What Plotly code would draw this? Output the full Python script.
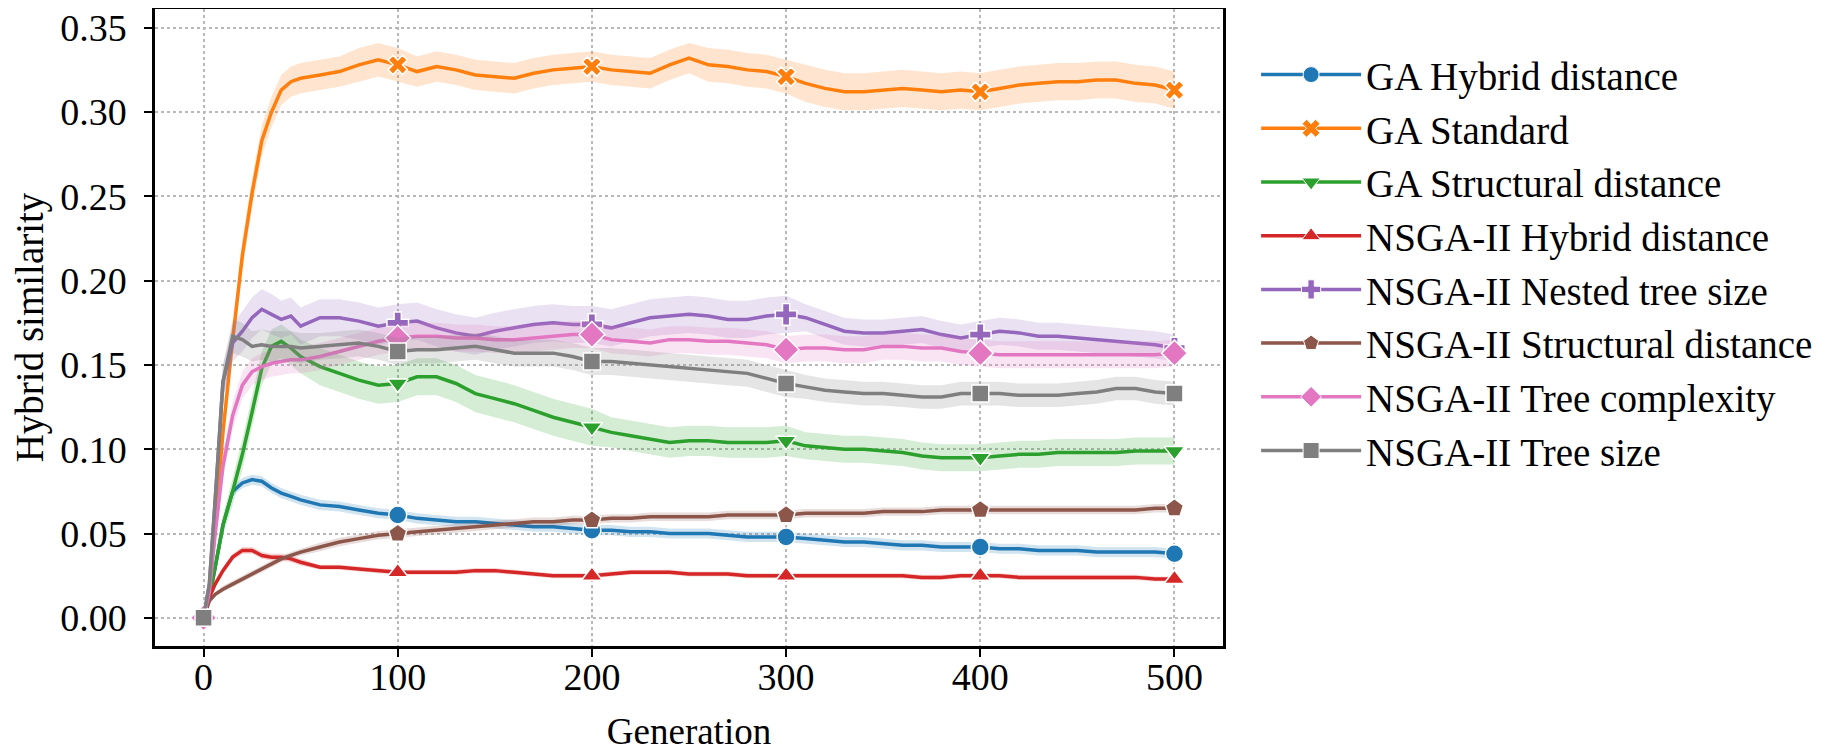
import plotly.graph_objects as go

GEN = [0, 3, 6, 10, 15, 20, 25, 30, 35, 40, 45, 50,
       60, 70, 80, 90, 100, 110, 120, 130, 140, 150, 160, 170, 180, 190, 200,
       210, 220, 230, 240, 250, 260, 270, 280, 290, 300,
       310, 320, 330, 340, 350, 360, 370, 380, 390, 400, 410, 420, 430, 440, 450, 460, 470, 480, 490, 500]

SERIES_NAMES = ["GA Hybrid distance", "GA Standard", "GA Structural distance",
                "NSGA-II Hybrid distance", "NSGA-II Nested tree size",
                "NSGA-II Structural distance", "NSGA-II Tree complexity", "NSGA-II Tree size"]

ga_hybrid = [0, 0.012, 0.030, 0.055, 0.075, 0.080, 0.082, 0.081, 0.077, 0.074, 0.072, 0.070,
             0.067, 0.066, 0.064, 0.062, 0.061, 0.059, 0.058, 0.057, 0.057, 0.056, 0.055, 0.054, 0.054, 0.053, 0.052,
             0.052, 0.051, 0.051, 0.050, 0.050, 0.050, 0.049, 0.048, 0.048, 0.048,
             0.047, 0.046, 0.045, 0.045, 0.044, 0.043, 0.043, 0.042, 0.042, 0.042, 0.041, 0.041, 0.040, 0.040, 0.040, 0.039, 0.039, 0.039, 0.039, 0.038]
ga_standard = [0, 0.015, 0.055, 0.110, 0.165, 0.215, 0.252, 0.283, 0.300, 0.313, 0.318, 0.320,
               0.322, 0.324, 0.328, 0.331, 0.328, 0.324, 0.327, 0.325, 0.322, 0.321, 0.320, 0.323, 0.325, 0.326, 0.327,
               0.325, 0.324, 0.323, 0.328, 0.332, 0.328, 0.327, 0.325, 0.324, 0.321,
               0.317, 0.314, 0.312, 0.312, 0.313, 0.314, 0.313, 0.312, 0.313, 0.312, 0.314, 0.316, 0.317, 0.318, 0.318, 0.319, 0.319, 0.317, 0.316, 0.313]
ga_structural = [0, 0.012, 0.030, 0.055, 0.075, 0.097, 0.122, 0.148, 0.161, 0.164, 0.160, 0.155,
                 0.149, 0.145, 0.141, 0.138, 0.139, 0.143, 0.143, 0.139, 0.133, 0.130, 0.127, 0.123, 0.119, 0.116, 0.113,
                 0.110, 0.108, 0.106, 0.104, 0.105, 0.105, 0.104, 0.104, 0.104, 0.105,
                 0.102, 0.101, 0.100, 0.100, 0.099, 0.098, 0.096, 0.095, 0.095, 0.095, 0.096, 0.097, 0.097, 0.098, 0.098, 0.098, 0.098, 0.099, 0.099, 0.099]
nsga_hybrid = [0, 0.012, 0.020, 0.028, 0.036, 0.040, 0.040, 0.037, 0.036, 0.036, 0.035, 0.033,
               0.030, 0.030, 0.029, 0.028, 0.027, 0.027, 0.027, 0.027, 0.028, 0.028, 0.027, 0.026, 0.025, 0.025, 0.025,
               0.026, 0.027, 0.027, 0.027, 0.026, 0.026, 0.026, 0.025, 0.025, 0.025,
               0.025, 0.025, 0.025, 0.025, 0.025, 0.025, 0.024, 0.024, 0.025, 0.025, 0.025, 0.024, 0.024, 0.024, 0.024, 0.024, 0.024, 0.024, 0.023, 0.023]
nsga_nested = [0, 0.020, 0.070, 0.140, 0.163, 0.170, 0.178, 0.183, 0.180, 0.177, 0.179, 0.173,
               0.178, 0.178, 0.176, 0.173, 0.175, 0.176, 0.172, 0.169, 0.167, 0.170, 0.172, 0.174, 0.175, 0.174, 0.174,
               0.172, 0.175, 0.178, 0.179, 0.180, 0.179, 0.177, 0.177, 0.179, 0.180,
               0.178, 0.174, 0.170, 0.169, 0.169, 0.170, 0.171, 0.168, 0.166, 0.168, 0.170, 0.169, 0.167, 0.167, 0.166, 0.165, 0.164, 0.163, 0.162, 0.160]
nsga_structural = [0, 0.010, 0.014, 0.017, 0.020, 0.023, 0.026, 0.029, 0.032, 0.035, 0.037, 0.039,
                   0.042, 0.045, 0.047, 0.049, 0.050, 0.051, 0.052, 0.053, 0.054, 0.055, 0.056, 0.057, 0.057, 0.058, 0.058,
                   0.059, 0.059, 0.060, 0.060, 0.060, 0.060, 0.061, 0.061, 0.061, 0.061,
                   0.062, 0.062, 0.062, 0.062, 0.063, 0.063, 0.063, 0.064, 0.064, 0.064, 0.064, 0.064, 0.064, 0.064, 0.064, 0.064, 0.064, 0.064, 0.065, 0.065]
nsga_complexity = [0, 0.015, 0.050, 0.090, 0.120, 0.138, 0.146, 0.149, 0.151, 0.152, 0.153, 0.153,
                   0.155, 0.158, 0.161, 0.164, 0.166, 0.167, 0.167, 0.166, 0.166, 0.165, 0.165, 0.166, 0.167, 0.168, 0.168,
                   0.165, 0.164, 0.163, 0.165, 0.165, 0.164, 0.164, 0.163, 0.162, 0.159,
                   0.160, 0.160, 0.159, 0.159, 0.161, 0.161, 0.160, 0.160, 0.158, 0.157, 0.156, 0.156, 0.156, 0.156, 0.156, 0.156, 0.156, 0.156, 0.156, 0.157]
nsga_treesize = [0, 0.020, 0.070, 0.140, 0.167, 0.165, 0.161, 0.162, 0.161, 0.161, 0.161, 0.160,
                 0.161, 0.162, 0.163, 0.161, 0.158, 0.159, 0.159, 0.160, 0.161, 0.159, 0.157, 0.157, 0.157, 0.155, 0.152,
                 0.152, 0.151, 0.150, 0.149, 0.148, 0.147, 0.146, 0.145, 0.142, 0.139,
                 0.137, 0.135, 0.134, 0.133, 0.133, 0.132, 0.131, 0.131, 0.133, 0.133, 0.133, 0.132, 0.132, 0.132, 0.133, 0.134, 0.136, 0.136, 0.134, 0.133]

# half-width of the shaded confidence band
ga_hybrid_ci = [0, 0.001, 0.002, 0.002, 0.003, 0.003, 0.003, 0.003, 0.003, 0.003, 0.003, 0.003,
                0.003, 0.003, 0.003, 0.003, 0.003, 0.003, 0.003, 0.003, 0.003, 0.003, 0.003, 0.003, 0.003, 0.003, 0.003,
                0.003, 0.003, 0.003, 0.003, 0.003, 0.003, 0.003, 0.003, 0.003, 0.003,
                0.003, 0.003, 0.003, 0.003, 0.003, 0.003, 0.003, 0.003, 0.003, 0.003, 0.003, 0.003, 0.003, 0.003, 0.003, 0.003, 0.003, 0.003, 0.003, 0.003]
ga_standard_ci = [0, 0.003, 0.006, 0.008, 0.009, 0.009, 0.009, 0.009, 0.009, 0.009, 0.009, 0.009,
                  0.009, 0.009, 0.010, 0.010, 0.010, 0.009, 0.009, 0.009, 0.009, 0.009, 0.009, 0.009, 0.009, 0.009, 0.009,
                  0.009, 0.009, 0.009, 0.009, 0.009, 0.010, 0.010, 0.010, 0.010, 0.010,
                  0.011, 0.011, 0.011, 0.011, 0.011, 0.011, 0.011, 0.011, 0.011, 0.011, 0.011, 0.011, 0.011, 0.011, 0.011, 0.011, 0.011, 0.011, 0.011, 0.011]
ga_structural_ci = [0, 0.002, 0.004, 0.006, 0.008, 0.009, 0.010, 0.010, 0.010, 0.010, 0.010, 0.010,
                    0.011, 0.011, 0.011, 0.011, 0.011, 0.011, 0.011, 0.011, 0.011, 0.011, 0.011, 0.011, 0.011, 0.011, 0.011,
                    0.009, 0.009, 0.009, 0.009, 0.009, 0.009, 0.009, 0.009, 0.009, 0.009,
                    0.008, 0.008, 0.008, 0.008, 0.008, 0.008, 0.008, 0.008, 0.008, 0.008, 0.008, 0.008, 0.008, 0.008, 0.008, 0.008, 0.008, 0.008, 0.008, 0.008]
nsga_hybrid_ci = [0, 0.001, 0.002, 0.002, 0.002, 0.002, 0.002, 0.002, 0.002, 0.002, 0.002, 0.002,
                  0.0015, 0.0015, 0.0015, 0.0015, 0.0015, 0.0015, 0.0015, 0.0015, 0.0015, 0.0015, 0.0015, 0.0015, 0.0015, 0.0015, 0.0015,
                  0.0015, 0.0015, 0.0015, 0.0015, 0.0015, 0.0015, 0.0015, 0.0015, 0.0015, 0.0015,
                  0.0015, 0.0015, 0.0015, 0.0015, 0.0015, 0.0015, 0.0015, 0.0015, 0.0015, 0.0015, 0.0015, 0.0015, 0.0015, 0.0015, 0.0015, 0.0015, 0.0015, 0.0015, 0.0015, 0.0015]
nsga_nested_ci = [0, 0.004, 0.008, 0.010, 0.011, 0.012, 0.012, 0.012, 0.012, 0.011, 0.011, 0.011,
                  0.011, 0.011, 0.011, 0.011, 0.011, 0.011, 0.011, 0.011, 0.011, 0.011, 0.011, 0.011, 0.011, 0.011, 0.011,
                  0.011, 0.011, 0.011, 0.011, 0.011, 0.011, 0.011, 0.011, 0.011, 0.011,
                  0.008, 0.008, 0.008, 0.008, 0.008, 0.008, 0.008, 0.008, 0.008, 0.008, 0.008, 0.008, 0.008, 0.008, 0.008, 0.008, 0.008, 0.008, 0.008, 0.008]
nsga_structural_ci = [0, 0.001, 0.001, 0.002, 0.002, 0.002, 0.002, 0.002, 0.002, 0.002, 0.002, 0.002,
                      0.0025, 0.0025, 0.0025, 0.0025, 0.0025, 0.0025, 0.0025, 0.0025, 0.0025, 0.0025, 0.0025, 0.0025, 0.0025, 0.0025, 0.0025,
                      0.0025, 0.0025, 0.0025, 0.0025, 0.0025, 0.0025, 0.0025, 0.0025, 0.0025, 0.0025,
                      0.0025, 0.0025, 0.0025, 0.0025, 0.0025, 0.0025, 0.0025, 0.0025, 0.0025, 0.0025, 0.0025, 0.0025, 0.0025, 0.0025, 0.0025, 0.0025, 0.0025, 0.0025, 0.0025, 0.0025]
nsga_complexity_ci = [0, 0.003, 0.006, 0.008, 0.008, 0.008, 0.008, 0.008, 0.008, 0.008, 0.008, 0.008,
                      0.008, 0.008, 0.008, 0.008, 0.008, 0.008, 0.008, 0.008, 0.008, 0.008, 0.008, 0.008, 0.008, 0.008, 0.008,
                      0.008, 0.008, 0.008, 0.008, 0.008, 0.008, 0.008, 0.008, 0.008, 0.008,
                      0.008, 0.008, 0.008, 0.008, 0.008, 0.008, 0.008, 0.008, 0.008, 0.008, 0.008, 0.008, 0.008, 0.008, 0.008, 0.008, 0.008, 0.008, 0.008, 0.008]
nsga_treesize_ci = [0, 0.004, 0.008, 0.010, 0.010, 0.010, 0.009, 0.009, 0.009, 0.009, 0.009, 0.009,
                    0.008, 0.008, 0.008, 0.008, 0.008, 0.008, 0.008, 0.008, 0.008, 0.008, 0.008, 0.008, 0.008, 0.008, 0.008,
                    0.008, 0.008, 0.008, 0.008, 0.008, 0.008, 0.008, 0.008, 0.008, 0.008,
                    0.007, 0.007, 0.007, 0.007, 0.007, 0.007, 0.007, 0.007, 0.007, 0.007, 0.007, 0.007, 0.007, 0.007, 0.007, 0.007, 0.007, 0.007, 0.007, 0.007]

MARKER_GENS = [0, 100, 200, 300, 400, 500]
Y_TICKS = [0.00, 0.05, 0.10, 0.15, 0.20, 0.25, 0.30, 0.35]
X_TICKS = [0, 100, 200, 300, 400, 500]

VALUES = [ga_hybrid, ga_standard, ga_structural, nsga_hybrid, nsga_nested,
          nsga_structural, nsga_complexity, nsga_treesize]
CIS = [ga_hybrid_ci, ga_standard_ci, ga_structural_ci, nsga_hybrid_ci, nsga_nested_ci,
       nsga_structural_ci, nsga_complexity_ci, nsga_treesize_ci]

COLORS = ["#1f77b4", "#ff7f0e", "#2ca02c", "#d62728", "#9467bd", "#8c564b", "#e377c2", "#7f7f7f"]
SYMBOLS = ["circle", "x", "triangle-down", "triangle-up", "cross", "pentagon", "diamond", "square"]
SIZES = [18, 17, 18, 18, 18, 19, 20, 17]

for v, c in zip(VALUES, CIS):
    if len(v) != len(GEN) or len(c) != len(GEN):
        raise ValueError("length mismatch")


def rgba(hex_color, a):
    h = hex_color.lstrip("#")
    r, g, b = int(h[0:2], 16), int(h[2:4], 16), int(h[4:6], 16)
    return f"rgba({r},{g},{b},{a})"


FONT = "Liberation Serif"
fig = go.Figure()

for name, vals, ci, col, sym, sz in zip(SERIES_NAMES, VALUES, CIS, COLORS, SYMBOLS, SIZES):
    upper = [v + e for v, e in zip(vals, ci)]
    lower = [v - e for v, e in zip(vals, ci)]
    fig.add_trace(go.Scatter(
        x=GEN + GEN[::-1], y=upper + lower[::-1], fill="toself",
        fillcolor=rgba(col, 0.2), line=dict(width=0), mode="lines",
        showlegend=False, hoverinfo="skip"))
    fig.add_trace(go.Scatter(
        x=GEN, y=vals, mode="lines", line=dict(color=col, width=3.5),
        showlegend=False, name=name))
    mx = [g for g in GEN if g in MARKER_GENS]
    my = [v for g, v in zip(GEN, vals) if g in MARKER_GENS]
    fig.add_trace(go.Scatter(
        x=mx, y=my, mode="markers", showlegend=False, name=name,
        marker=dict(symbol=sym, size=sz, color=col, line=dict(color="white", width=1.5))))

# legend entries
for name, col, sym in zip(SERIES_NAMES, COLORS, SYMBOLS):
    fig.add_trace(go.Scatter(
        x=[None], y=[None], mode="lines+markers", name=name,
        line=dict(color=col, width=3.5),
        marker=dict(symbol=sym, size=18, color=col, line=dict(color="white", width=1))))

axis_common = dict(
    showline=True, linecolor="black", linewidth=2.5, mirror=True,
    ticks="outside", ticklen=8, tickwidth=2, tickcolor="black",
    showgrid=True, gridcolor="#b8b8b8", griddash="dot", gridwidth=1.5,
    zeroline=False, automargin=False, ticklabeloverflow="allow",
    tickfont=dict(family=FONT, size=38, color="black"),
)

fig.update_layout(
    width=1831, height=752,
    margin=dict(l=147, r=616, t=1, b=114),
    paper_bgcolor="white", plot_bgcolor="white",
    font=dict(family=FONT, size=38, color="black"),
    xaxis=dict(range=[-25, 525], tickvals=X_TICKS, ticklabelstandoff=-12,
               title=dict(text="Generation", font=dict(family=FONT, size=37), standoff=21),
               **axis_common),
    yaxis=dict(range=[-0.0167, 0.3611], tickvals=Y_TICKS, tickformat=".2f", ticklabelstandoff=10,
               title=dict(text="Hybrid similarity", font=dict(family=FONT, size=39), standoff=12),
               **axis_common),
    legend=dict(x=1.031, xanchor="left", y=0.947, yanchor="top",
                font=dict(family=FONT, size=39, color="black"),
                itemwidth=100, bgcolor="rgba(0,0,0,0)", borderwidth=0,
                tracegroupgap=0),
)

fig.write_html("out.html")
